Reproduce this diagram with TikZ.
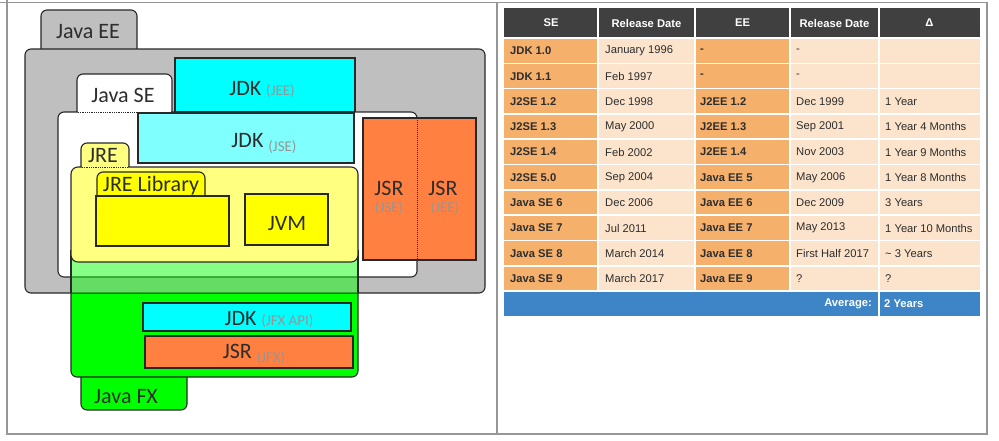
\documentclass[tikz,border=0pt]{standalone}
\usepackage{fontspec}
\setmainfont{Liberation Sans}
\newfontfamily\calfont{Carlito}
\definecolor{eegray}{RGB}{191,191,191}
\definecolor{cyanA}{RGB}{0,255,255}
\definecolor{cyanB}{RGB}{128,255,255}
\definecolor{jsror}{RGB}{255,128,64}
\definecolor{ylwA}{RGB}{255,255,128}
\definecolor{ylwB}{RGB}{255,255,0}
\definecolor{fxgreen}{RGB}{0,255,0}
\definecolor{edge}{RGB}{40,40,40}
\definecolor{lbltext}{RGB}{45,45,45}
\definecolor{subgray}{RGB}{150,150,150}
\definecolor{framegray}{RGB}{150,150,150}
\definecolor{hdrgray}{RGB}{64,64,64}
\definecolor{orcell}{RGB}{245,176,108}
\definecolor{pchcell}{RGB}{252,228,204}
\definecolor{avgblue}{RGB}{61,133,198}
\definecolor{celltext}{RGB}{45,45,45}
\newcommand\subl[1]{{\fontsize{15}{15}\selectfont\color{subgray}#1}}
\tikzset{
  box/.style={draw=edge, line width=1.1pt},
  lbl/.style={font=\calfont\fontsize{22}{22}\selectfont, text=lbltext, anchor=base, inner sep=0pt},
  hd/.style={font=\bfseries\fontsize{11.2}{11.2}\selectfont, text=white, inner sep=0pt},
  cb/.style={font=\bfseries\fontsize{11.2}{11.2}\selectfont, text=celltext, anchor=west, inner sep=0pt},
  cr/.style={font=\fontsize{11.2}{11.2}\selectfont, text=celltext, anchor=west, inner sep=0pt},
  grid/.style={white, line width=1.6pt}
}
\begin{document}
\begin{tikzpicture}[x=1pt,y=-1pt]
\useasboundingbox (0,0) rectangle (999,440);
\fill[white] (0,0) rectangle (999,440);
% frame
\draw[framegray, line width=1.2pt] (0,2.5) -- (987,2.5) -- (987,434) -- (7,434) -- (7,0);
\draw[framegray, line width=1.2pt] (497,2.5) -- (497,434);

% ---------------- left diagram ----------------
% Java FX (solid part)
\draw[box, fill=fxgreen] (81,370) [rounded corners=6] -- (81,410) -- (187,410) [sharp corners] -- (187,370) -- cycle;
\draw[box, fill=fxgreen, rounded corners=6] (71,250) rectangle (358,377);
% Java EE
\draw[box, fill=eegray] (41,49) [rounded corners=6] -- (41,10) -- (137,10) [sharp corners] -- (137,49);
\draw[box, fill=eegray, rounded corners=6] (25,49) rectangle (485,293);
% JDK (JEE)
\draw[box, fill=cyanA] (175,58) rectangle (355,112);
% Java SE
\draw[box, fill=white] (77,112) [rounded corners=6] -- (77,74) -- (172,74) [sharp corners] -- (172,112);
\draw[box, fill=white, rounded corners=6] (58,112) rectangle (417,277);
\draw[white, line width=1.4pt] (78,112) -- (171,112);
\draw[edge, densely dotted, line width=0.8pt] (78,112) -- (171,112);
% JDK (JSE)
\draw[box, fill=cyanB] (138,113) rectangle (354,163);
% JSR
\draw[box, fill=jsror] (363,118) rectangle (476,260);
\draw[edge, densely dotted, line width=1pt] (417,118) -- (417,260);
% green overlay of Java FX
\fill[fxgreen, opacity=0.47] (71,250) rectangle (358,293);
\draw[box] (71,250) -- (71,293) (358,250) -- (358,293);
% JRE
\draw[box, fill=ylwA] (81,167) [rounded corners=6] -- (81,143) -- (129,143) [sharp corners] -- (129,167);
\draw[box, fill=ylwA, rounded corners=7] (71,167) rectangle (358,262);
\draw[ylwA, line width=1.4pt] (82,167) -- (128,167);
\draw[edge, densely dotted, line width=0.8pt] (82,167) -- (128,167);
% JRE Library
\draw[box, fill=ylwB] (97,196) [rounded corners=6] -- (97,172) -- (205,172) [sharp corners] -- (205,196);
\draw[box, fill=ylwB] (96,196) rectangle (229,246);
% JVM
\draw[box, fill=ylwB] (245,194) rectangle (328,245);
% JFX boxes
\draw[box, fill=cyanA] (143,303) rectangle (351,331);
\draw[box, fill=jsror] (145,336) rectangle (353,368);

% labels
\node[lbl] (lee) at (88,38.5) {Java EE};
\node[lbl] (ljee) at (262,95) {JDK \subl{(JEE)}};
\node[lbl] (lse) at (123,102) {Java SE};
\node[lbl] (ljse) at (264,147) {JDK \raisebox{-4pt}{\subl{(JSE)}}};
\node[lbl] (ljre) at (103,162) {JRE};
\node[lbl] (llib) at (151,191) {JRE Library};
\node[lbl] (ljvm) at (287,230) {JVM};
\node[lbl] (ljsr1) at (389,195) {JSR};
\node[lbl] (ljsr1s) at (389,212) {\subl{(JSE)}};
\node[lbl] (ljsr2) at (443,195) {JSR};
\node[lbl] (ljsr2s) at (445,212) {\subl{(JEE)}};
\node[lbl] (ljfx) at (269,325) {JDK \subl{(JFX API)}};
\node[lbl] (ljsrfx) at (254,358) {JSR \raisebox{-4pt}{\subl{(JFX)}}};
\node[lbl] (lfx) at (126,403) {Java FX};

% ---------------- table ----------------
\fill[pchcell] (504,38) rectangle (980,291);
\fill[orcell] (504,38) rectangle (598,291);
\fill[orcell] (695,38) rectangle (790,291);
\fill[hdrgray] (504,8) rectangle (980,38);
\fill[avgblue] (504,291) rectangle (980,316);
\foreach \gx in {598,695,790,879} \draw[grid] (\gx,8) -- (\gx,291);
\draw[grid] (879,291) -- (879,316);
\foreach \k in {0,...,10} \draw[grid] (504,38+25.3*\k) -- (980,38+25.3*\k);

\node[hd] (h1) at (551,23) {SE};
\node[hd] (h2) at (646.5,23) {Release Date};
\node[hd] (h3) at (742.5,23) {EE};
\node[hd] (h4) at (834.5,23) {Release Date};
\node[hd] (h5) at (929.5,23) {Δ};

\foreach \i/\a/\b/\c/\d/\e in {
  1/JDK 1.0/January 1996/-/-/{},
  2/JDK 1.1/Feb 1997/-/-/{},
  3/J2SE 1.2/Dec 1998/J2EE 1.2/Dec 1999/1 Year,
  4/J2SE 1.3/May 2000/J2EE 1.3/Sep 2001/1 Year 4 Months,
  5/J2SE 1.4/Feb 2002/J2EE 1.4/Nov 2003/1 Year 9 Months,
  6/J2SE 5.0/Sep 2004/Java EE 5/May 2006/1 Year 8 Months,
  7/Java SE 6/Dec 2006/Java EE 6/Dec 2009/3 Years,
  8/Java SE 7/Jul 2011/Java EE 7/May 2013/1 Year 10 Months,
  9/Java SE 8/March 2014/Java EE 8/First Half 2017/\textasciitilde{} 3 Years,
  10/Java SE 9/March 2017/Java EE 9/?/?}
{
  \pgfmathsetmacro\ym{38+25.3*(\i-1)+12.9}
  \node[cb] (se\i) at (510,\ym) {\a};
  \node[cr] (sd\i) at (605,\ym) {\b};
  \node[cb] (ee\i) at (700,\ym) {\c};
  \node[cr] (ed\i) at (796,\ym) {\d};
  \node[cr] (dl\i) at (885,\ym) {\e};
}
\node[hd, anchor=east] (avg) at (872,304) {Average:};
\node[hd, anchor=west] (avgv) at (884,304) {2 Years};
\end{tikzpicture}
\end{document}
